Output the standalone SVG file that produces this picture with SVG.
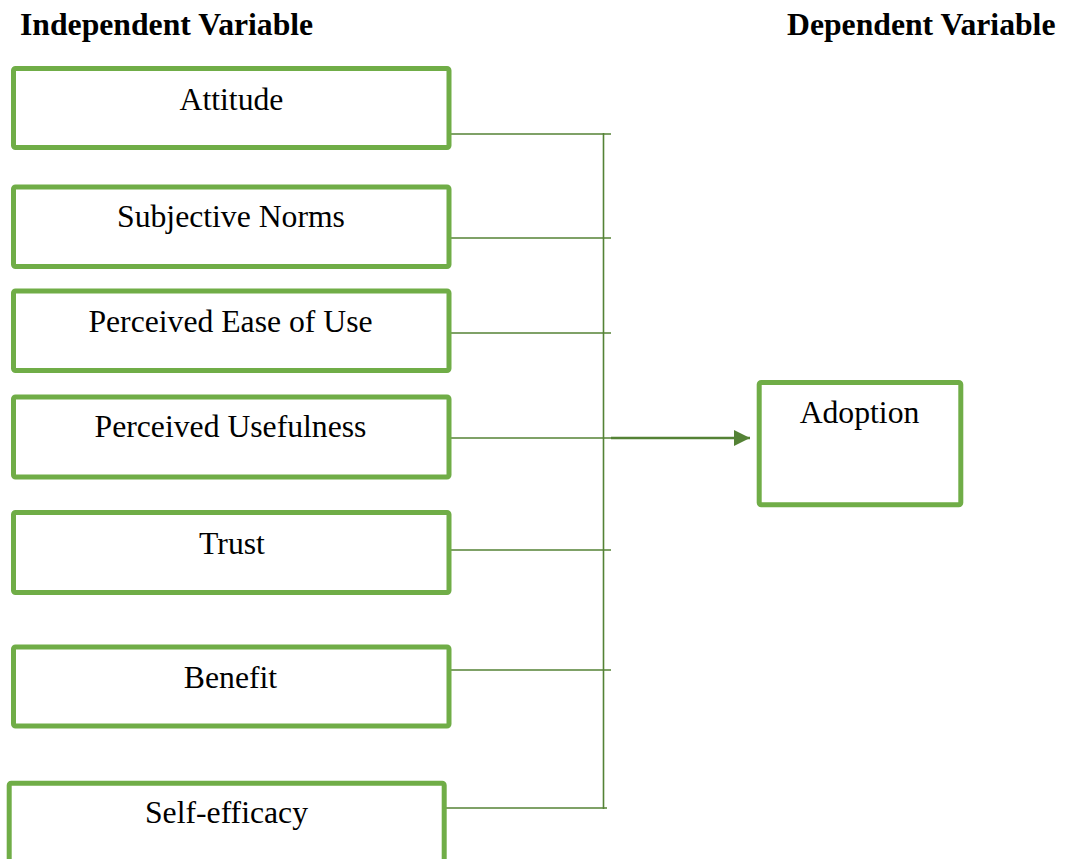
<svg xmlns="http://www.w3.org/2000/svg" width="1068" height="859" viewBox="0 0 1068 859">
  <style>
    .box { fill: #ffffff; stroke: #70AD47; stroke-width: 5; }
    .label { font-family: "Liberation Serif", "Times New Roman", serif; font-size: 31.7px; fill: #000000; text-anchor: middle; }
    .title { font-family: "Liberation Serif", "Times New Roman", serif; font-size: 31.7px; font-weight: bold; fill: #000000; }
    .link { stroke: #548235; stroke-width: 1.6; fill: none; }
    .main { stroke: #548235; stroke-width: 2.4; fill: none; }
  </style>
  <defs>
    <marker id="arrow" markerWidth="6.8" markerHeight="6.8" refX="7" refY="3.5" orient="auto" markerUnits="strokeWidth" viewBox="0 0 7 7">
      <path d="M0,0 L7,3.5 L0,7 Z" fill="#548235"/>
    </marker>
  </defs>
  <rect width="1068" height="859" fill="#ffffff"/>

  <!-- Column headings -->
  <text class="title" x="20" y="35">Independent Variable</text>
  <text class="title" x="787" y="35">Dependent Variable</text>

  <!-- Connectors -->
  <g id="connectors">
    <line class="link" x1="451" y1="134" x2="611" y2="134"/>
    <line class="link" x1="451" y1="238" x2="611" y2="238"/>
    <line class="link" x1="451" y1="333" x2="611" y2="333"/>
    <line class="link" x1="451" y1="438" x2="611" y2="438"/>
    <line class="link" x1="451" y1="550" x2="611" y2="550"/>
    <line class="link" x1="451" y1="670" x2="611" y2="670"/>
    <line class="link" x1="446" y1="808" x2="607" y2="808"/>
    <line class="link" x1="603.5" y1="133" x2="603.5" y2="809"/>
    <line class="main" x1="611" y1="438" x2="750" y2="438" marker-end="url(#arrow)"/>
  </g>

  <!-- Independent variables -->
  <g id="attitude">
    <rect class="box" x="13.5" y="68.5" width="435.5" height="79" rx="2"/>
    <text class="label" x="231.5" y="110">Attitude</text>
  </g>
  <g id="subjective-norms">
    <rect class="box" x="13.5" y="187" width="435.5" height="79.5" rx="2"/>
    <text class="label" x="231" y="227">Subjective Norms</text>
  </g>
  <g id="perceived-ease-of-use">
    <rect class="box" x="13.5" y="291" width="435.5" height="79.5" rx="2"/>
    <text class="label" x="230.5" y="331.7">Perceived Ease of Use</text>
  </g>
  <g id="perceived-usefulness">
    <rect class="box" x="13.5" y="397" width="435.5" height="80" rx="2"/>
    <text class="label" x="230.5" y="437.3">Perceived Usefulness</text>
  </g>
  <g id="trust">
    <rect class="box" x="13.5" y="512.5" width="435.5" height="80" rx="2"/>
    <text class="label" x="232" y="554.3">Trust</text>
  </g>
  <g id="benefit">
    <rect class="box" x="13.5" y="647" width="435.5" height="79" rx="2"/>
    <text class="label" x="230.5" y="688.3">Benefit</text>
  </g>
  <g id="self-efficacy">
    <rect class="box" x="9.2" y="783.2" width="435" height="82" rx="2"/>
    <text class="label" x="226.5" y="823.3">Self-efficacy</text>
  </g>

  <!-- Dependent variable -->
  <g id="adoption">
    <rect class="box" x="759.2" y="382.5" width="201.6" height="122.3" rx="2"/>
    <text class="label" x="859.5" y="423.3">Adoption</text>
  </g>
</svg>
